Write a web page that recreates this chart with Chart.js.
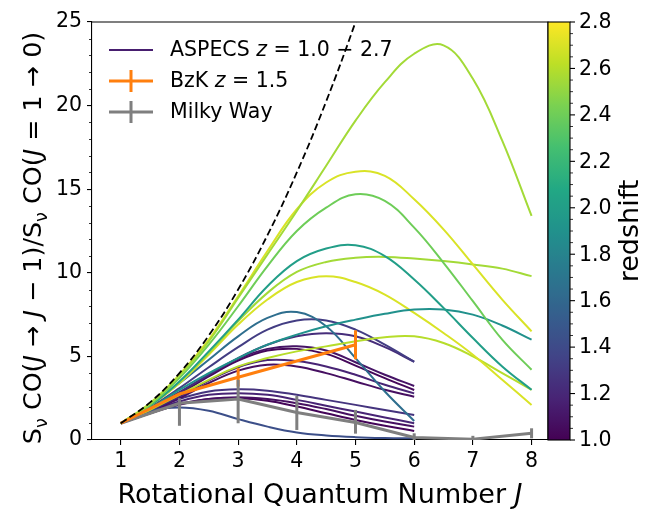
<!DOCTYPE html>
<html>
<head>
<meta charset="utf-8">
<script src="https://cdn.jsdelivr.net/npm/chart.js@4"></script>
<style>
  html, body { margin: 0; padding: 0; background: #fff; }
  #wrap { width: 648px; height: 509px; }
</style>
</head>
<body>
<div id="wrap"><canvas id="sled" width="648" height="509"></canvas></div>
<script>
// J grid shared by the ASPECS model curves (half steps)
const jGrid = [1, 1.5, 2, 2.5, 3, 3.5, 4, 4.5, 5, 5.5, 6, 6.5, 7, 7.5, 8];

// redshift of each ASPECS curve (sets its colour)
const aspecsZ = [2.55, 2.7, 2.4, 2.0, 1.9, 2.55, 2.7, 2.6,
                 1.43, 1.65, 1.32, 1.23, 1.1, 1.03, 1.18, 1.07, 1.27, 1.18, 1.07, 1.02];

// flux ratio S(J->J-1)/S(1->0) read at jGrid
const aspecsSled = [
  [1, 2.2, 3.85, 5.9, 8.5, 11.1, 13.7, 16.4, 19.1, 21.4, 23.1, 23.6, 21.6, 17.9, 13.4],
  [1, 2.2, 3.9, 6.0, 8.6, 11.3, 13.8, 15.4, 16.05, 15.8, 14.4, 12.6, 10.5, 8.4, 6.5],
  [1, 2.1, 3.7, 5.7, 8.0, 10.4, 12.5, 13.9, 14.7, 14.3, 12.7, 10.6, 8.3, 6.0, 4.2],
  [1, 2.05, 3.5, 5.3, 7.2, 9.2, 10.7, 11.45, 11.65, 11.0, 9.6, 7.9, 6.1, 4.4, 3.0],
  [1, 1.9, 3.0, 4.0, 4.9, 5.7, 6.3, 6.8, 7.2, 7.55, 7.8, 7.8, 7.5, 6.85, 6.0],
  [1, 2.05, 3.45, 5.2, 7.1, 8.8, 10.05, 10.65, 10.9, 10.95, 10.85, 10.7, 10.5, 10.25, 9.8],
  [1, 2.05, 3.4, 5.1, 6.9, 8.4, 9.45, 9.8, 9.45, 8.7, 7.6, 6.4, 5.1, 3.6, 2.1],
  [1, 1.8, 2.7, 3.6, 4.4, 4.9, 5.3, 5.6, 5.9, 6.15, 6.2, 5.8, 5.0, 4.0, 3.0],
  [1, 1.75, 1.95, 1.75, 1.25, 0.8, 0.45, 0.27, 0.17, 0.12, 0.1],
  [1, 2.05, 3.4, 4.8, 6.2, 7.3, 7.65, 6.8, 4.9, 2.9, 1.14],
  [1, 1.95, 3.1, 4.35, 5.55, 6.6, 7.15, 7.15, 6.6, 5.7, 4.68],
  [1, 1.85, 2.85, 3.9, 4.9, 5.7, 6.2, 6.38, 6.2, 5.55, 4.68],
  [1, 1.85, 2.85, 3.9, 4.85, 5.45, 5.6, 5.35, 4.65, 3.9, 3.23],
  [1, 1.8, 2.75, 3.8, 4.75, 5.35, 5.45, 5.15, 4.45, 3.7, 2.99],
  [1, 1.75, 2.6, 3.55, 4.35, 4.78, 4.72, 4.4, 3.9, 3.3, 2.79],
  [1, 1.7, 2.5, 3.4, 4.15, 4.5, 4.4, 4.0, 3.5, 3.0, 2.59],
  [1, 1.75, 2.45, 2.9, 3.03, 2.95, 2.7, 2.4, 2.1, 1.8, 1.5],
  [1, 1.7, 2.3, 2.7, 2.8, 2.7, 2.4, 2.05, 1.7, 1.35, 1.0],
  [1, 1.6, 2.15, 2.45, 2.55, 2.45, 2.2, 1.85, 1.45, 1.1, 0.8],
  [1, 1.6, 2.1, 2.45, 2.5, 2.35, 2.0, 1.6, 1.2, 0.85, 0.54]
];

// thermalised (J^2) reference line
const thermalJ = [1, 1.5, 2, 2.5, 3, 3.5, 4, 4.5, 5, 5.5];
const thermalY = [1, 2.25, 4, 6.25, 9, 12.25, 16, 20.25, 25, 30.25];

// BzK z=1.5
const bzkJ = [1, 2, 3, 5];
const bzkY = [1.0, 2.75, 3.75, 5.7];
const bzkLo = [null, null, 3.2, 4.83];
const bzkHi = [null, null, 4.3, 6.56];

// Milky Way
const mwJ = [1, 2, 3, 4, 5, 6, 7, 8];
const mwY = [1.0, 2.2, 2.45, 1.65, 1.05, 0.15, 0.05, 0.4];
const mwLo = [null, 0.85, 1.0, 0.6, 0.38, 0.0, 0.0, 0.1];
const mwHi = [null, 2.5, 3.6, 2.63, 1.8, 0.4, 0.25, 0.7];

const xTicks = [1, 2, 3, 4, 5, 6, 7, 8];
const yTicks = [0, 5, 10, 15, 20, 25];
const zTicks = [1.0, 1.2, 1.4, 1.6, 1.8, 2.0, 2.2, 2.4, 2.6, 2.8];
const zMin = 1.0, zMax = 2.8;

const FONT = "'DejaVu Sans', sans-serif";
const ORANGE = '#ff7f0e';
const GRAY = '#7f7f7f';

const viridisStops = ['#440154', '#482475', '#414487', '#355f8d', '#2a788e', '#21918c',
                      '#22a884', '#44bf70', '#7ad151', '#bddf26', '#fde725'];

function hexToRgb(h) {
    return [parseInt(h.slice(1, 3), 16), parseInt(h.slice(3, 5), 16), parseInt(h.slice(5, 7), 16)];
}

function viridis(t) {
    t = Math.max(0, Math.min(1, t));
    const p = t * (viridisStops.length - 1);
    const i = Math.min(Math.floor(p), viridisStops.length - 2);
    const f = p - i;
    const a = hexToRgb(viridisStops[i]), b = hexToRgb(viridisStops[i + 1]);
    const c = a.map((v, k) => Math.round(v + (b[k] - v) * f));
    return `rgb(${c[0]}, ${c[1]}, ${c[2]})`;
}

function zColor(z) {
    return viridis((z - zMin) / (zMax - zMin));
}

const datasets = [];

aspecsSled.forEach((vals, i) => {
    datasets.push({
        data: vals.map((v, k) => ({ x: jGrid[k], y: v })),
        borderColor: zColor(aspecsZ[i]),
        borderWidth: 2,
        tension: 0.4,
        pointRadius: 0,
        order: 3
    });
});

datasets.push({
    data: bzkJ.map((j, k) => ({ x: j, y: bzkY[k] })),
    borderColor: ORANGE,
    borderWidth: 3,
    pointRadius: 0,
    order: 1
});

datasets.push({
    data: mwJ.map((j, k) => ({ x: j, y: mwY[k] })),
    borderColor: GRAY,
    borderWidth: 3,
    pointRadius: 0,
    order: 1
});

datasets.push({
    data: thermalJ.map((j, k) => ({ x: j, y: thermalY[k] })),
    borderColor: '#000',
    borderWidth: 1.8,
    borderDash: [7, 3.5],
    tension: 0.4,
    pointRadius: 0,
    order: 0
});

function drawRich(ctx, parts, x, y, size) {
    let total = 0;
    parts.forEach(p => {
        ctx.font = (p.it ? 'italic ' : '') + (p.sub ? size * 0.7 : size) + 'px ' + FONT;
        p.w = ctx.measureText(p.t).width;
        total += p.w;
    });
    let cx = x - total / 2;
    parts.forEach(p => {
        ctx.font = (p.it ? 'italic ' : '') + (p.sub ? size * 0.7 : size) + 'px ' + FONT;
        ctx.fillText(p.t, cx, y + (p.sub ? size * 0.22 : 0));
        cx += p.w;
    });
    return total;
}

function drawErrorBars(chart, js, lo, hi, color) {
    const ctx = chart.ctx;
    const xs = chart.scales.x, ys = chart.scales.y;
    ctx.save();
    ctx.strokeStyle = color;
    ctx.lineWidth = 3;
    js.forEach((j, k) => {
        if (lo[k] === null) return;
        const px = xs.getPixelForValue(j);
        ctx.beginPath();
        ctx.moveTo(px, ys.getPixelForValue(lo[k]));
        ctx.lineTo(px, ys.getPixelForValue(hi[k]));
        ctx.stroke();
    });
    ctx.restore();
}

const decorations = {
    id: 'decorations',
    afterDatasetsDraw(chart) {
        drawErrorBars(chart, bzkJ, bzkLo, bzkHi, ORANGE);
        drawErrorBars(chart, mwJ, mwLo, mwHi, GRAY);
    },
    afterDraw(chart) {
        const ctx = chart.ctx;
        const a = chart.chartArea;
        const ys = chart.scales.y;
        ctx.save();

        // frame top and right
        ctx.strokeStyle = '#000';
        ctx.lineWidth = 1.1;
        ctx.beginPath();
        ctx.moveTo(a.left, a.top);
        ctx.lineTo(a.right, a.top);
        ctx.lineTo(a.right, a.bottom);
        ctx.stroke();

        // y minor ticks
        ctx.lineWidth = 0.8;
        for (let v = 0; v <= 25; v++) {
            if (v % 5 === 0) continue;
            const py = Math.round(ys.getPixelForValue(v)) + 0.5;
            ctx.beginPath();
            ctx.moveTo(a.left, py);
            ctx.lineTo(a.left - 3, py);
            ctx.stroke();
        }

        // colorbar
        const cbL = a.right, cbR = a.right + 22;
        const zPix = z => a.bottom - (z - zMin) / (zMax - zMin) * (a.bottom - a.top);
        const grad = ctx.createLinearGradient(0, a.bottom, 0, a.top);
        for (let i = 0; i <= 40; i++) grad.addColorStop(i / 40, viridis(i / 40));
        ctx.fillStyle = grad;
        ctx.fillRect(cbL, a.top, cbR - cbL, a.bottom - a.top);
        ctx.strokeStyle = '#000';
        ctx.lineWidth = 1.1;
        ctx.strokeRect(cbL, a.top, cbR - cbL, a.bottom - a.top);

        ctx.fillStyle = '#000';
        ctx.font = '20.5px ' + FONT;
        ctx.textAlign = 'left';
        ctx.textBaseline = 'middle';
        zTicks.forEach(z => {
            const py = zPix(z);
            ctx.lineWidth = 1.1;
            ctx.beginPath();
            ctx.moveTo(cbR, py);
            ctx.lineTo(cbR + 5, py);
            ctx.stroke();
            ctx.fillText(z.toFixed(1), cbR + 9, py + 1);
        });
        ctx.lineWidth = 0.8;
        for (let k = 0; k <= 36; k++) {
            if (k % 4 === 0) continue;
            const py = zPix(zMin + k * 0.05);
            ctx.beginPath();
            ctx.moveTo(cbR, py);
            ctx.lineTo(cbR + 3, py);
            ctx.stroke();
        }

        // axis titles
        ctx.textAlign = 'left';
        ctx.textBaseline = 'alphabetic';
        drawRich(ctx, [{ t: 'Rotational Quantum Number ' }, { t: 'J', it: true }], (a.left + a.right) / 2, 503, 27);

        ctx.save();
        ctx.translate(41, 238);
        ctx.rotate(-Math.PI / 2);
        drawRich(ctx, [
            { t: 'S' }, { t: 'ν', sub: true }, { t: ' CO(' }, { t: 'J', it: true }, { t: ' → ' },
            { t: 'J', it: true }, { t: ' − 1)/S' }, { t: 'ν', sub: true }, { t: ' CO(' },
            { t: 'J', it: true }, { t: ' = 1 → 0)' }
        ], 0, 0, 25.4);
        ctx.restore();

        ctx.save();
        ctx.translate(638, (a.top + a.bottom) / 2);
        ctx.rotate(-Math.PI / 2);
        drawRich(ctx, [{ t: 'redshift' }], 0, 0, 27);
        ctx.restore();

        // legend
        const lx0 = 109, lx1 = 153, tx = 170;
        const rows = [50, 81, 112];
        ctx.lineWidth = 2;
        ctx.strokeStyle = zColor(1.15);
        ctx.beginPath();
        ctx.moveTo(lx0, rows[0]);
        ctx.lineTo(lx1, rows[0]);
        ctx.stroke();
        [[ORANGE, rows[1]], [GRAY, rows[2]]].forEach(([c, y]) => {
            ctx.strokeStyle = c;
            ctx.lineWidth = 3;
            ctx.beginPath();
            ctx.moveTo(lx0, y);
            ctx.lineTo(lx1, y);
            ctx.moveTo((lx0 + lx1) / 2, y - 11);
            ctx.lineTo((lx0 + lx1) / 2, y + 11);
            ctx.stroke();
        });
        ctx.fillStyle = '#000';
        ctx.textBaseline = 'middle';
        const legendRows = [
            [{ t: 'ASPECS ' }, { t: 'z', it: true }, { t: ' = 1.0 − 2.7' }],
            [{ t: 'BzK ' }, { t: 'z', it: true }, { t: ' = 1.5' }],
            [{ t: 'Milky Way' }]
        ];
        legendRows.forEach((parts, i) => {
            let w = 0;
            parts.forEach(p => {
                ctx.font = (p.it ? 'italic ' : '') + '20.5px ' + FONT;
                w += ctx.measureText(p.t).width;
            });
            drawRich(ctx, parts, tx + w / 2, rows[i] + 1, 20.5);
        });

        ctx.restore();
    }
};

Chart.defaults.font.family = FONT;
Chart.defaults.color = '#000';

const chart = new Chart(document.getElementById('sled'), {
    type: 'line',
    data: { datasets: datasets },
    options: {
        responsive: false,
        animation: false,
        devicePixelRatio: 1,
        layout: { padding: { left: 0, right: 100, top: 22, bottom: 0 } },
        plugins: {
            legend: { display: false },
            tooltip: { enabled: false }
        },
        scales: {
            x: {
                type: 'linear',
                min: 0.51,
                max: 8.28,
                afterBuildTicks: s => { s.ticks = xTicks.map(v => ({ value: v })); },
                afterFit: s => { s.height = 69; },
                grid: { drawOnChartArea: false, color: '#000', tickLength: 5, lineWidth: 1.1 },
                border: { color: '#000', width: 1.1 },
                ticks: { font: { size: 20.5 }, color: '#000', padding: 4, maxRotation: 0 }
            },
            y: {
                type: 'linear',
                min: 0,
                max: 25,
                afterBuildTicks: s => { s.ticks = yTicks.map(v => ({ value: v })); },
                afterFit: s => { s.width = 92; },
                grid: { drawOnChartArea: false, color: '#000', tickLength: 5, lineWidth: 1.1 },
                border: { color: '#000', width: 1.1 },
                ticks: { font: { size: 20.5 }, color: '#000', padding: 5 }
            }
        }
    },
    plugins: [decorations]
});
</script>
</body>
</html>
